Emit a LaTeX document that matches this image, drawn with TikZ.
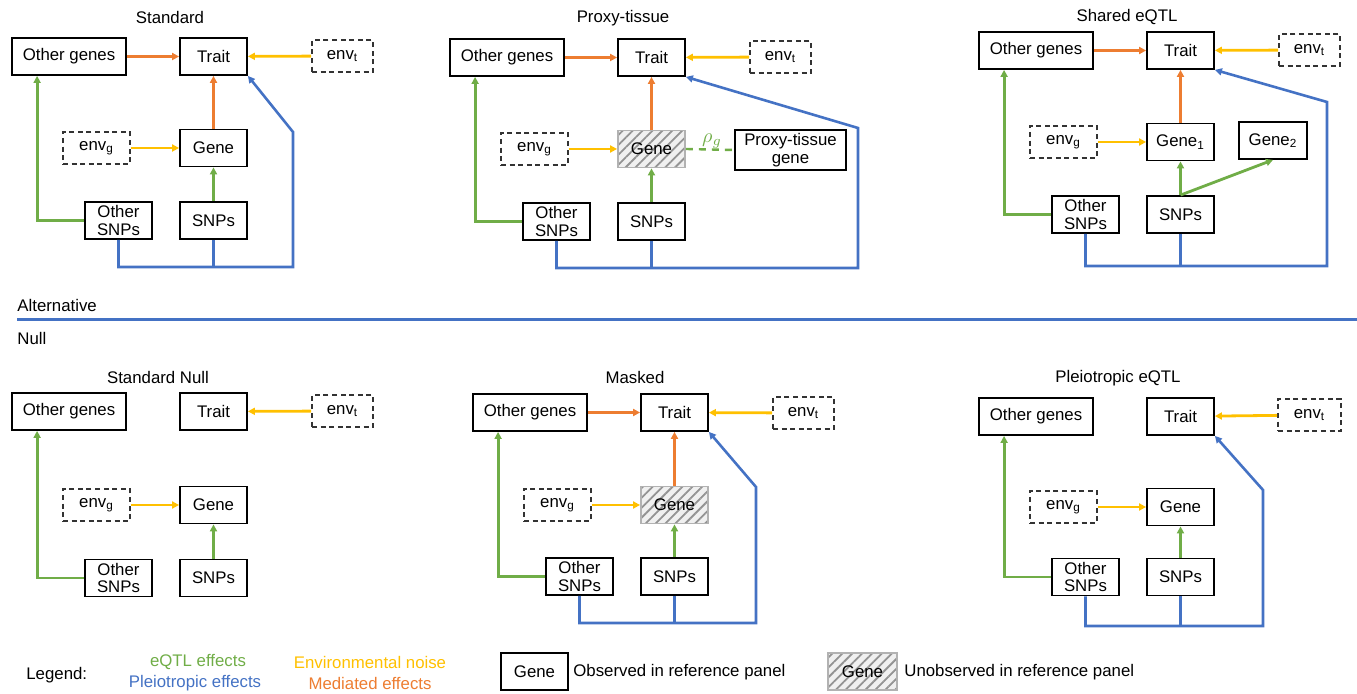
\documentclass[tikz,border=0pt]{standalone}
\usepackage{fontspec}
\setmainfont{Liberation Sans}
\usetikzlibrary{arrows.meta,patterns.meta}
\definecolor{eqtlgreen}{RGB}{112,173,71}
\definecolor{pleioblue}{RGB}{68,114,196}
\definecolor{envyellow}{RGB}{255,192,0}
\definecolor{medorange}{RGB}{237,125,49}

\tikzset{
  box/.style={draw, line width=0.9pt, minimum width=33.5pt, minimum height=18.5pt, inner sep=0pt, align=center},
  widebox/.style={box, minimum width=57pt},
  envbox/.style={box, draw=black!80, dash pattern=on 2.5pt off 1.8pt, minimum height=16pt},
  masked/.style={box, draw=gray!60, preaction={fill=gray!12}, pattern={Lines[angle=45,distance=3.5pt,line width=0.9pt]}, pattern color=gray!85},
  link/.style={line width=1.4pt, -{Triangle[length=3.5pt,width=3.5pt]}},
  eqtl/.style={link, draw=eqtlgreen},
  pleio/.style={link, draw=pleioblue, line width=1.3pt},
  noise/.style={link, draw=envyellow},
  mediated/.style={link, draw=medorange}
}

\begin{document}
\begin{tikzpicture}[x=0.5pt,y=-0.5pt,font=\fontsize{8.4}{9}\selectfont]
\useasboundingbox (0,0) rectangle (1357,694);

% Standard
\begin{scope}[shift={(12,38)}]
  \node (s1title) at (158,-20) {Standard};
  \node[widebox] (s1og) at (57,18.5) {Other genes};
  \node[box] (s1trait) at (201.5,18.5) {Trait};
  \node[envbox, minimum width=30.5pt] (s1envt) at (330.5,18) {env\textsubscript{t}};
  \node[envbox] (s1envg) at (84.5,110) {env\textsubscript{g}};
  \node[box] (s1gene) at (201.5,110) {Gene};
  \node[box] (s1osnp) at (106.5,182.5) {Other\\SNPs};
  \node[box] (s1snp) at (201.5,182.5) {SNPs};
  \coordinate (s1bend) at (281,94);
  \coordinate (s1base) at (281,229);
  \foreach \from/\to in {s1og/s1trait,s1gene/s1trait}
  \draw[mediated] (\from) -- (\to);
  \foreach \from/\to in {s1envt/s1trait,s1envg/s1gene}
  \draw[noise] (\from) -- (\to);
  \draw[eqtl] (s1snp) -- (s1gene);
  \draw[eqtl] (s1osnp.west) -| ([xshift=13pt]s1og.south west);
  \draw[pleio] (s1osnp.south) |- (s1base) -- (s1bend) -- (s1trait.south east);
  \draw[pleio,-] (s1snp.south) -- (s1snp.south |- s1base);
\end{scope}

% Proxy-tissue
\begin{scope}[shift={(450,39)}]
  \node (s2title) at (173,-21) {Proxy-tissue};
  \node[widebox] (s2og) at (57,18.5) {Other genes};
  \node[box] (s2trait) at (201.5,18.5) {Trait};
  \node[envbox, minimum width=30.5pt] (s2envt) at (330.5,18) {env\textsubscript{t}};
  \node[envbox] (s2envg) at (84.5,110) {env\textsubscript{g}};
  \node[masked] (s2gene) at (201.5,110) {Gene};
  \node[box, minimum width=55.5pt, minimum height=20pt] (s2proxy) at (340.5,111) {Proxy-tissue\\gene};
  \node[box] (s2osnp) at (106.5,182.5) {Other\\SNPs};
  \node[box] (s2snp) at (201.5,182.5) {SNPs};
  \node[text=eqtlgreen, font=\fontsize{10}{11}\selectfont] (s2rho) at (262,102) {$\rho_g$};
  \coordinate (s2bend) at (408,89);
  \coordinate (s2base) at (408,229);
  \foreach \from/\to in {s2og/s2trait,s2gene/s2trait}
  \draw[mediated] (\from) -- (\to);
  \foreach \from/\to in {s2envt/s2trait,s2envg/s2gene}
  \draw[noise] (\from) -- (\to);
  \draw[eqtl] (s2snp) -- (s2gene);
  \draw[eqtl] (s2osnp.west) -| ([xshift=13pt]s2og.south west);
  \draw[draw=eqtlgreen, line width=1.2pt, dash pattern=on 3.5pt off 3pt] (s2gene.east) -- (s2proxy.west);
  \draw[pleio] (s2osnp.south) |- (s2base) -- (s2bend) -- (s2trait.south east);
  \draw[pleio,-] (s2snp.south) -- (s2snp.south |- s2base);
\end{scope}

% Shared eQTL
\begin{scope}[shift={(979,32)}]
  \node (s3title) at (148,-15) {Shared eQTL};
  \node[widebox] (s3og) at (57,18.5) {Other genes};
  \node[box] (s3trait) at (201.5,18.5) {Trait};
  \node[envbox, minimum width=30.5pt] (s3envt) at (330.5,18) {env\textsubscript{t}};
  \node[envbox] (s3envg) at (84.5,110) {env\textsubscript{g}};
  \node[box] (s3gene) at (201.5,110) {Gene\textsubscript{1}};
  \node[box, minimum width=34pt] (s3genetwo) at (294,108.5) {Gene\textsubscript{2}};
  \node[box] (s3osnp) at (106.5,182.5) {Other\\SNPs};
  \node[box] (s3snp) at (201.5,182.5) {SNPs};
  \coordinate (s3bend) at (348,70);
  \coordinate (s3base) at (348,234);
  \foreach \from/\to in {s3og/s3trait,s3gene/s3trait}
  \draw[mediated] (\from) -- (\to);
  \foreach \from/\to in {s3envt/s3trait,s3envg/s3gene}
  \draw[noise] (\from) -- (\to);
  \draw[eqtl] (s3snp) -- (s3gene);
  \draw[eqtl] (s3snp.north) -- (s3genetwo.south);
  \draw[eqtl] (s3osnp.west) -| ([xshift=13pt]s3og.south west);
  \draw[pleio] (s3osnp.south) |- (s3base) -- (s3bend) -- (s3trait.south east);
  \draw[pleio,-] (s3snp.south) -- (s3snp.south |- s3base);
\end{scope}

% Alternative / Null
\node[anchor=west, inner sep=0pt] (alt) at (17,306) {Alternative};
\node[anchor=west, inner sep=0pt] (null) at (17,339) {Null};
\coordinate (sepl) at (17,320);
\coordinate (sepr) at (1357,320);
\draw[pleioblue, line width=1.5pt] (sepl) -- (sepr);

% Standard Null
\begin{scope}[shift={(12,393)}]
  \node (s4title) at (146,-15) {Standard Null};
  \node[widebox] (s4og) at (57,18.5) {Other genes};
  \node[box] (s4trait) at (201.5,18.5) {Trait};
  \node[envbox, minimum width=30.5pt] (s4envt) at (330.5,18) {env\textsubscript{t}};
  \node[envbox] (s4envg) at (84.5,112) {env\textsubscript{g}};
  \node[box] (s4gene) at (201.5,112) {Gene};
  \node[box] (s4osnp) at (106.5,185) {Other\\SNPs};
  \node[box] (s4snp) at (201.5,185) {SNPs};
  \foreach \from/\to in {s4envt/s4trait,s4envg/s4gene}
  \draw[noise] (\from) -- (\to);
  \draw[eqtl] (s4snp) -- (s4gene);
  \draw[eqtl] (s4osnp.west) -| ([xshift=13pt]s4og.south west);
\end{scope}

% Masked
\begin{scope}[shift={(473,394)}]
  \node (s5title) at (162,-16) {Masked};
  \node[widebox] (s5og) at (57,18.5) {Other genes};
  \node[box] (s5trait) at (201.5,18.5) {Trait};
  \node[envbox, minimum width=30.5pt] (s5envt) at (330.5,19) {env\textsubscript{t}};
  \node[envbox] (s5envg) at (84.5,111) {env\textsubscript{g}};
  \node[masked] (s5gene) at (201.5,111) {Gene};
  \node[box] (s5osnp) at (106.5,182.5) {Other\\SNPs};
  \node[box] (s5snp) at (201.5,182.5) {SNPs};
  \coordinate (s5bend) at (283,93);
  \coordinate (s5base) at (283,229);
  \foreach \from/\to in {s5og/s5trait,s5gene/s5trait}
  \draw[mediated] (\from) -- (\to);
  \foreach \from/\to in {s5envt/s5trait,s5envg/s5gene}
  \draw[noise] (\from) -- (\to);
  \draw[eqtl] (s5snp) -- (s5gene);
  \draw[eqtl] (s5osnp.west) -| ([xshift=13pt]s5og.south west);
  \draw[pleio] (s5osnp.south) |- (s5base) -- (s5bend) -- (s5trait.south east);
  \draw[pleio,-] (s5snp.south) -- (s5snp.south |- s5base);
\end{scope}

% Pleiotropic eQTL
\begin{scope}[shift={(979,398)}]
  \node (s6title) at (139,-20) {Pleiotropic eQTL};
  \node[widebox] (s6og) at (57,18.5) {Other genes};
  \node[box] (s6trait) at (201.5,18.5) {Trait};
  \node[envbox, minimum width=31.5pt] (s6envt) at (330.5,17) {env\textsubscript{t}};
  \node[envbox] (s6envg) at (84.5,109) {env\textsubscript{g}};
  \node[box] (s6gene) at (201.5,109) {Gene};
  \node[box] (s6osnp) at (106.5,179) {Other\\SNPs};
  \node[box] (s6snp) at (201.5,179) {SNPs};
  \coordinate (s6bend) at (284,92);
  \coordinate (s6base) at (284,228);
  \foreach \from/\to in {s6envt/s6trait,s6envg/s6gene}
  \draw[noise] (\from) -- (\to);
  \draw[eqtl] (s6snp) -- (s6gene);
  \draw[eqtl] (s6osnp.west) -| ([xshift=13pt]s6og.south west);
  \draw[pleio] (s6osnp.south) |- (s6base) -- (s6bend) -- (s6trait.south east);
  \draw[pleio,-] (s6snp.south) -- (s6snp.south |- s6base);
\end{scope}

% Legend
\node[anchor=west, inner sep=0pt] (legend) at (26,675) {Legend:};
\node[text=eqtlgreen] (lgeqtl) at (198,662) {eQTL effects};
\node[text=pleioblue] (lgpleio) at (195,683) {Pleiotropic effects};
\node[text=envyellow] (lgnoise) at (370,662) {Environmental noise};
\node[text=medorange] (lgmed) at (370,683) {Mediated effects};
\node[box] (lgobs) at (534.5,671.5) {Gene};
\node[anchor=west, inner sep=0pt] (lgobstext) at (573,672) {Observed in reference panel};
\node[masked, minimum width=34.5pt] (lgunobs) at (862.5,671.5) {Gene};
\node[anchor=west, inner sep=0pt] (lgunobstext) at (904,672) {Unobserved in reference panel};
\end{tikzpicture}
\end{document}
